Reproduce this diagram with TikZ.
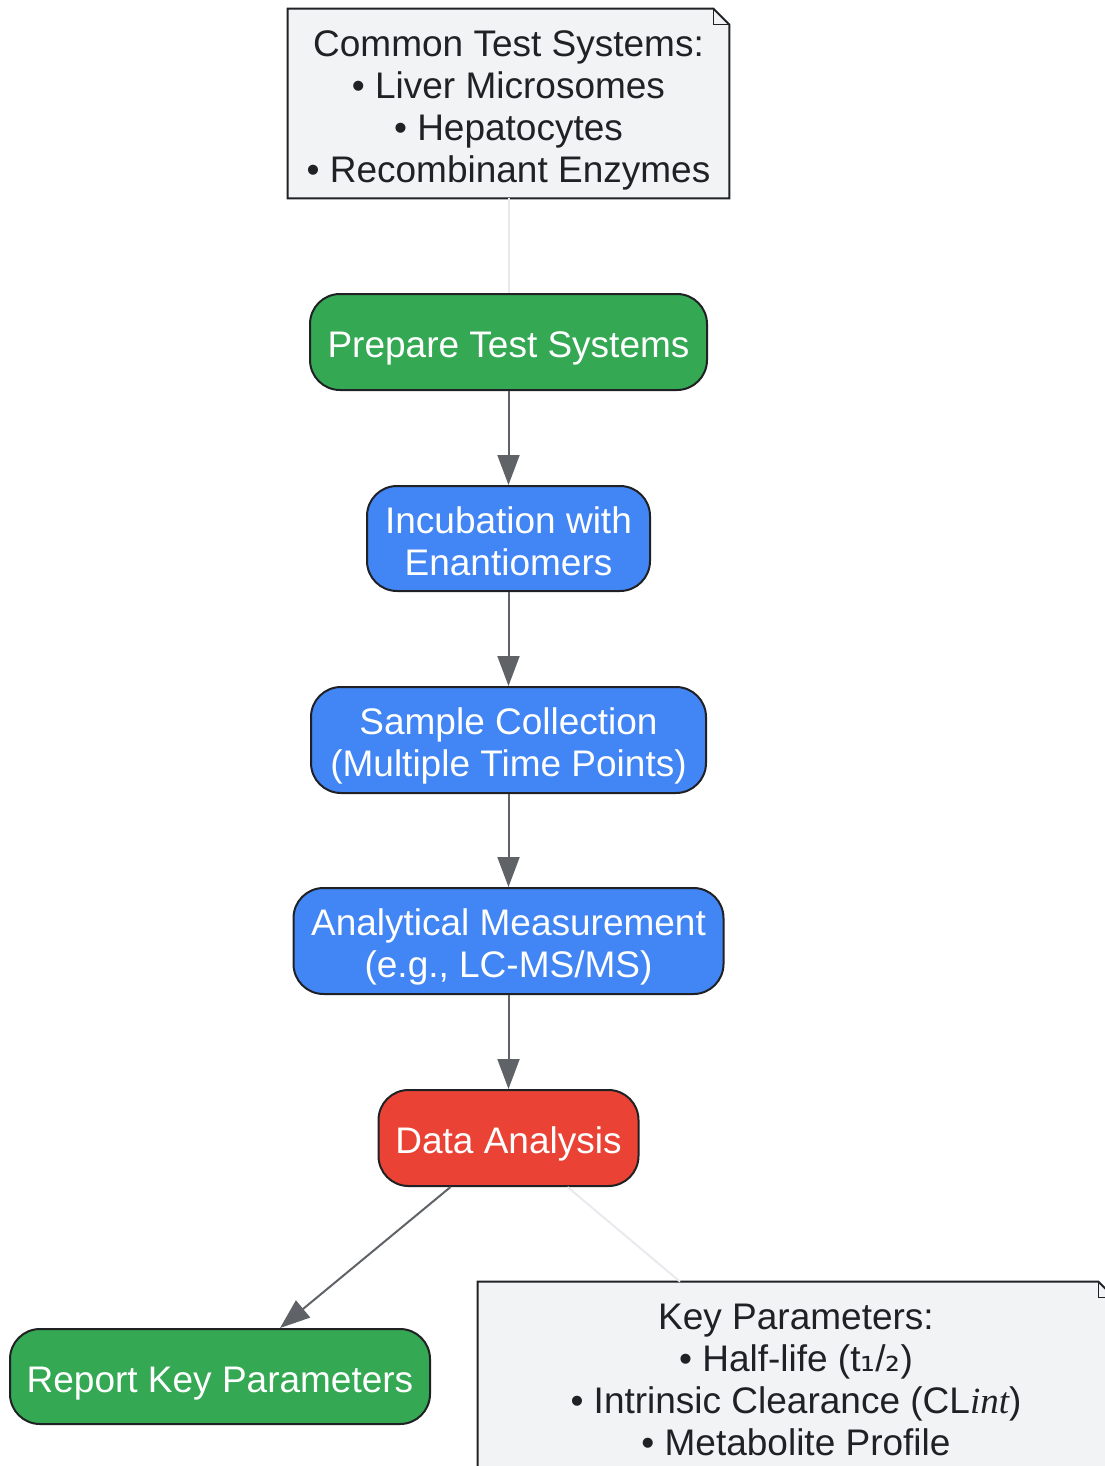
\documentclass[tikz,border=0pt]{standalone}
\usepackage{fontspec}
\setmainfont{Liberation Sans}
\newfontfamily\serifit{Liberation Serif}
\newfontfamily\symfont{DejaVu Sans}
\usetikzlibrary{arrows.meta,backgrounds}
\definecolor{stepGreen}{HTML}{34A853}
\definecolor{stepBlue}{HTML}{4285F4}
\definecolor{stepRed}{HTML}{EA4335}
\definecolor{noteFill}{HTML}{F1F3F4}
\definecolor{noteText}{HTML}{202124}
\definecolor{boxLine}{HTML}{202124}
\definecolor{arrowGray}{HTML}{5F6368}
\definecolor{faintGray}{HTML}{E8EAED}
\newcommand{\firststrut}{\rule{0pt}{19.5pt}}
\newcommand{\laststrut}{\rule[-3.9pt]{0pt}{3.9pt}}
\begin{document}
\begin{tikzpicture}[x = 0.5pt, y = -0.5pt,
        every node/.style = {font = \fontsize{18.5}{21}\selectfont, align = center, inner sep = 0pt},
        stepbox/.style = {draw = boxLine, line width = 1pt, rounded corners = 15pt, text = white},
        notebox/.style = {text = noteText},
        flow/.style = {draw = arrowGray, line width = 1pt, -{Triangle[length = 15pt, width = 11pt]}},
        faint/.style = {draw = faintGray, line width = 1pt}]
        \useasboundingbox (0, 0) rectangle (1104, 1466);
        % notes
        \node [notebox, minimum width = 220.5pt, minimum height = 94.5pt] (sysnote) at (508.5, 103.5) {\firststrut Common Test Systems:\\• Liver Microsomes\\• Hepatocytes\\• Recombinant Enzymes\laststrut};
        \node [notebox, minimum width = 318pt, minimum height = 94.5pt] (keynote) at (796, 1376.5) {\firststrut Key Parameters:\\• Half-life (t{\symfont ₁}/{\symfont ₂})\\• Intrinsic Clearance (CL{\serifit\itshape int})\\• Metabolite Profile\laststrut};
        \begin{scope}[on background layer]
            \foreach \n in {sysnote, keynote} {
                \filldraw [fill = noteFill, draw = boxLine, line width = 1pt] (\n.north west) -- ([xshift = -8pt]\n.north east) -- ([yshift = -8pt]\n.north east) -- (\n.south east) -- (\n.south west) -- cycle;
                \draw [boxLine, line width = 0.8pt] ([xshift = -8pt]\n.north east) -- ([xshift = -8pt, yshift = -8pt]\n.north east) -- ([yshift = -8pt]\n.north east);
            }
        \end{scope}
        % steps
        \node [stepbox, fill = stepGreen, minimum width = 198.5pt, minimum height = 48pt] (prepare) at (508.5, 342) {\firststrut Prepare Test Systems\laststrut};
        \node [stepbox, fill = stepBlue, minimum width = 141.5pt, minimum height = 52.5pt] (incubate) at (508.5, 538.5) {\firststrut Incubation with\\Enantiomers\laststrut};
        \node [stepbox, fill = stepBlue, minimum width = 197.5pt, minimum height = 53pt] (sample) at (508.5, 740) {\firststrut Sample Collection\\(Multiple Time Points)\laststrut};
        \node [stepbox, fill = stepBlue, minimum width = 215pt, minimum height = 53pt] (measure) at (508.5, 941) {\firststrut Analytical Measurement\\(e.g., LC-MS/MS)\laststrut};
        \node [stepbox, fill = stepRed, minimum width = 130pt, minimum height = 48pt] (analysis) at (508.5, 1138) {\firststrut Data Analysis\laststrut};
        \node [stepbox, fill = stepGreen, minimum width = 210pt, minimum height = 47.5pt] (report) at (220, 1376.5) {\firststrut Report Key Parameters\laststrut};
        % connectors
        \draw [faint] (sysnote) -- (prepare);
        \draw [flow] (prepare) -- (incubate);
        \draw [flow] (incubate) -- (sample);
        \draw [flow] (sample) -- (measure);
        \draw [flow] (measure) -- (analysis);
        \draw [flow] ([xshift = -29pt]analysis.south) -- ([xshift = 30pt]report.north);
        \draw [faint] ([xshift = 29.5pt]analysis.south) -- ([xshift = -58pt]keynote.north);
    \end{tikzpicture}
\end{document}
